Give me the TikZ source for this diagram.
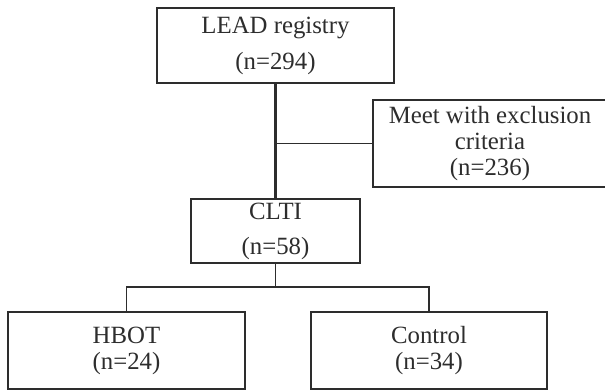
\documentclass[tikz,border=0pt]{standalone}
\usepackage{fontspec}
\setmainfont{Liberation Serif}
\usepackage{tikz}
\usetikzlibrary{calc}
\definecolor{ink}{RGB}{45,45,45}

\begin{document}
\begin{tikzpicture}[x=0.5pt, y=-0.5pt, ink,
	box/.style={draw, line width=0.9pt, align=center, inner sep=0pt,
		font=\fontsize{12.4}{13}\selectfont},
	link/.style={line width=0.9pt}]
	\useasboundingbox (0,0) rectangle (605,391);
	
	\def\cx{275.5} % center line
	\def\fy{287} % fork height
	
	% boxes
	\node[box, minimum width=118.5pt, minimum height=37.5pt] (lead) at (\cx,45.5)
		{LEAD registry\\[5pt](n=294)};
	\node[box, minimum width=117pt, minimum height=43.5pt] (excl) at (490,143.5)
		{Meet with exclusion\\criteria\\(n=236)};
	\node[box, minimum width=84.5pt, minimum height=32pt] (clti) at (\cx,231)
		{CLTI\\[4.5pt](n=58)};
	\node[box, minimum width=118.5pt, minimum height=38.5pt] (hbot) at (126.5,350.5)
		{HBOT\\(n=24)};
	\node[box, minimum width=118pt, minimum height=38.5pt] (ctrl) at (429,350.5)
		{Control\\(n=34)};
	
	% main line
	\draw[line width=1.2pt] (lead) -- (clti);
	
	% exclusion branch
	\coordinate (split) at (lead.south |- excl.west);
	\draw[link] (split) -- (excl.west);
	
	% fork to groups
	\coordinate (fork) at (\cx,\fy);
	\draw[link] (clti) -- (fork);
	\draw[link] (fork) -| (hbot);
	\draw[link] (fork) -| (ctrl);
\end{tikzpicture}
\end{document}
